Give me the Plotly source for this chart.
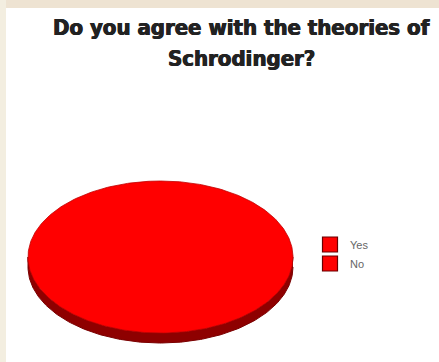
import numpy as np
import plotly.graph_objects as go

# Poll answers (share of votes)
categories = ["Yes", "No"]
values = [100, 0]
colors = ["#ff0000", "#ff0000"]

title_lines = ["Do you agree with the theories of", "Schrodinger?"]

W, H = 439, 362
# Tilted pie geometry in pixel-space axes
cx, cy = 160.5, 257.0
rx, ry = 132.5, 76.0
depth = 10.0

fig = go.Figure()

# Side wall of the tilted pie (front half only)
t = np.linspace(0, np.pi, 200)
top_x = cx + rx * np.cos(t)
top_y = cy + ry * np.sin(t)
side_x = np.concatenate([top_x, top_x[::-1]])
side_y = np.concatenate([top_y, top_y[::-1] + depth])
fig.add_trace(go.Scatter(
    x=side_x, y=side_y, mode="lines", fill="toself",
    fillcolor="#8e0000", line=dict(color="#7a0000", width=1),
    hoverinfo="skip", showlegend=False,
))

# Top face slices, angles taken from the values
total = float(sum(values))
start = np.pi / 2
for name, v, col in zip(categories, values, colors):
    sweep = 2 * np.pi * v / total
    if sweep > 0:
        a = np.linspace(start, start - sweep, 400)
        xs = cx + rx * np.cos(a)
        ys = cy - ry * np.sin(a)
        if v < total:
            xs = np.concatenate([[cx], xs, [cx]])
            ys = np.concatenate([[cy], ys, [cy]])
        fig.add_trace(go.Scatter(
            x=xs, y=ys, mode="lines", fill="toself", fillcolor=col,
            line=dict(color="#c00000", width=0.8),
            name=name, hoverinfo="name", showlegend=False,
        ))
    start -= sweep

# Legend entries
for name, col in zip(categories, colors):
    fig.add_trace(go.Scatter(
        x=[None], y=[None], mode="markers", name=name,
        marker=dict(symbol="square", size=15, color=col,
                    line=dict(color="#6a0000", width=1.2)),
    ))

title_font = dict(family="DejaVu Sans Condensed", size=22, color="#222222",
                  weight="bold", shadow="0.5px 0 0 #222222, -0.5px 0 0 #222222")

fig.update_layout(
    width=W, height=H,
    margin=dict(l=0, r=0, t=0, b=0),
    paper_bgcolor="white", plot_bgcolor="white",
    xaxis=dict(range=[0, W], visible=False, fixedrange=True),
    yaxis=dict(range=[H, 0], visible=False, fixedrange=True),
    annotations=[
        dict(text=title_lines[0], xref="paper", yref="paper",
             x=241 / W, xanchor="center", y=1 - 42 / H, yanchor="bottom",
             showarrow=False, font=title_font),
        dict(text=title_lines[1], xref="paper", yref="paper",
             x=241 / W, xanchor="center", y=1 - 73 / H, yanchor="bottom",
             showarrow=False, font=title_font),
    ],
    legend=dict(
        x=310 / W, xanchor="left",
        y=1 - 230 / H, yanchor="top",
        font=dict(family="Liberation Sans", size=11, color="#666666"),
        bgcolor="rgba(0,0,0,0)",
        itemsizing="trace",
    ),
    shapes=[
        dict(type="rect", xref="paper", yref="paper", x0=0, x1=1,
             y0=1 - 8 / H, y1=1, fillcolor="#eee3d2", line_width=0, layer="below"),
        dict(type="rect", xref="paper", yref="paper", x0=0, x1=6 / W,
             y0=0, y1=1, fillcolor="#f3eee0", line_width=0, layer="below"),
    ],
)

fig.write_html("out.html")
